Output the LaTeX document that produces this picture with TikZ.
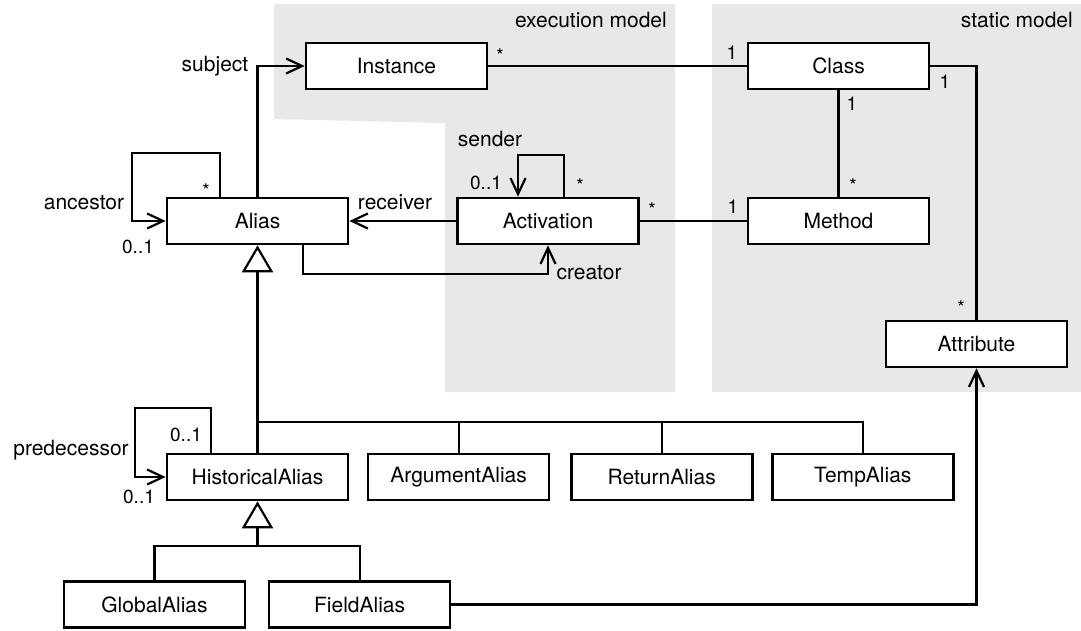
\documentclass[tikz,border=0pt]{standalone}
\usepackage{fontspec}
\setmainfont{TeX Gyre Heros}
\usetikzlibrary{positioning, calc, arrows.meta}
\definecolor{modelgray}{HTML}{E8E8E8}
\tikzset{cls/.style={draw, line width=2.6pt, fill=white, minimum width=181pt, minimum height=46pt, inner sep=0pt, font=\fontsize{21}{25}\selectfont}}
\tikzset{conn/.style={draw, line width=2.2pt}}
\tikzset{assoc/.style={conn, -{Straight Barb[length=16pt, width=15pt]}}}
\tikzset{gen/.style={conn, -{Triangle[open, length=27pt, width=31pt]}}}
\tikzset{role/.style={inner sep=0pt, font=\fontsize{21}{25}\selectfont}}
\tikzset{mult/.style={inner sep=0pt, font=\fontsize{19}{23}\selectfont}}

\begin{document}
\begin{tikzpicture}[x=1pt, y=-1pt]
			\useasboundingbox (0,0) rectangle (1081,630);
			% model regions
			\fill[modelgray] (274,4) -- (675,4) -- (675,392) -- (445,392) -- (445,123) -- (274,119) -- cycle;
			\fill[modelgray] (712,4) rectangle (1081,392);
			\node[role, anchor=east] (execlbl) at (667,20) {execution model};
			\node[role, anchor=east] (staticlbl) at (1073,20) {static model};
%
			\node[cls] (Instance) at (396.5,66) {Instance};
			\node[cls] (Class) at (838.5,66) {Class};
			\node[cls] (Alias) at (257.5,221) {Alias};
			\node[cls] (Activation) at (548,221) {Activation};
			\node[cls] (Method) at (838.5,221) {Method};
			\node[cls] (Attribute) at (976.5,344) {Attribute};
			\node[cls] (HistoricalAlias) at (257.5,477) {HistoricalAlias};
			\node[cls, right=17.5pt of HistoricalAlias] (ArgumentAlias) {ArgumentAlias};
			\node[cls, right=19.5pt of ArgumentAlias] (ReturnAlias) {ReturnAlias};
			\node[cls, right=17.5pt of ReturnAlias] (TempAlias) {TempAlias};
			\node[cls] (GlobalAlias) at (154.5,604.5) {GlobalAlias};
			\node[cls, right=21.5pt of GlobalAlias] (FieldAlias) {FieldAlias};
			\coordinate (bus) at (257.5,422);
			\coordinate (bus2) at (257.5,546);
%
			\draw[assoc] (Alias.north) |- (Instance.west);
			\node[role] (lsubject) at (215,66) {subject};
			\draw[conn] (Instance) -- (Class);
			\node[mult] (minst) at (500,56) {*};
			\node[mult] (mclass) at (732,53) {1};
			\draw[conn] (Class) -- (Method);
			\node[mult] (mclassm) at (852,104) {1};
			\node[mult] (mmethc) at (853,186) {*};
			\draw[conn] (Class.east) -| (Attribute.north);
			\node[mult] (mclassa) at (945,82) {1};
			\node[mult] (mattr) at (961,308) {*};
%
			\draw[assoc] ($(Alias.north)+(-37.5,0)$) -- ++(0,-44) -| ($(Alias.west)+(-34,0)$) -- (Alias.west);
			\node[role] (lancestor) at (84,203) {ancestor};
			\node[mult] (manc) at (206,191) {*};
			\node[mult] (manc2) at (138,247) {0..1};
			\draw[assoc] (Activation) -- (Alias);
			\node[role] (lreceiver) at (395,202) {receiver};
			\draw[assoc] ($(Activation.north)+(16,0)$) -- ++(0,-42) -| ($(Activation.north)+(-30,0)$);
			\node[role] (lsender) at (490,139) {sender};
			\node[mult] (msend) at (486,183) {0..1};
			\node[mult] (msend2) at (580,186) {*};
			\draw[assoc] ($(Alias.south)+(45.5,0)$) -- ++(0,29) -| (Activation.south);
			\node[role] (lcreator) at (589,273) {creator};
			\draw[conn] (Activation) -- (Method);
			\node[mult] (mact) at (652,210) {*};
			\node[mult] (mmeth) at (733,207) {1};
%
			% generalisations
			\draw[gen] (HistoricalAlias) -- (Alias);
			\draw[conn] (bus) -| (TempAlias.north);
			\draw[conn] (ArgumentAlias.north) -- (ArgumentAlias.north |- bus);
			\draw[conn] (ReturnAlias.north) -- (ReturnAlias.north |- bus);
			\draw[gen] (bus2) -- (HistoricalAlias);
			\draw[conn] (GlobalAlias.north) |- (bus2) -| (FieldAlias.north);
%
			\draw[assoc] ($(HistoricalAlias.north)+(-46.5,0)$) -- ++(0,-45) -| ($(HistoricalAlias.west)+(-31,0)$) -- (HistoricalAlias.west);
			\node[role] (lpred) at (71,450) {predecessor};
			\node[mult] (mpred) at (186,435) {0..1};
			\node[mult] (mpred2) at (139,497) {0..1};
			\draw[assoc] (FieldAlias.east) -| (Attribute.south);
		\end{tikzpicture}
\end{document}
